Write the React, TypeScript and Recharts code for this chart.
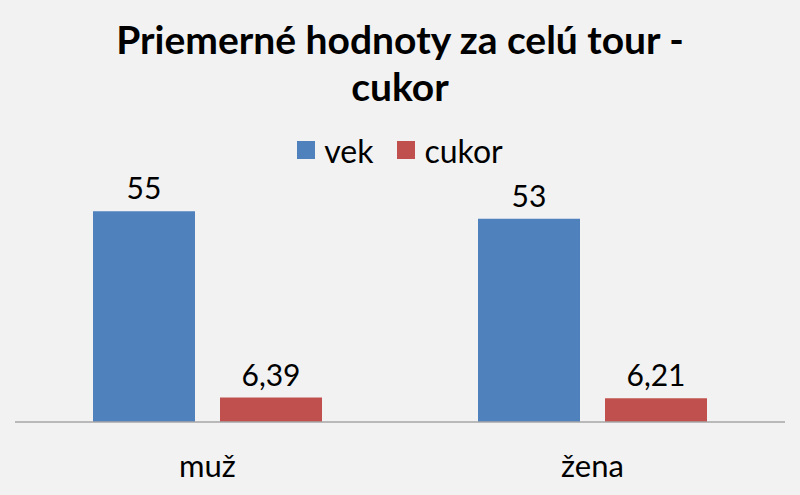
import { BarChart, Bar, XAxis, YAxis, LabelList } from "recharts";

const categories = ["muž", "žena"];
const vek = [55, 53];
const cukor = [6.39, 6.21];
const seriesNames = { vek: "vek", cukor: "cukor" };

const data = categories.map((name, i) => ({ name, vek: vek[i], cukor: cukor[i] }));

const FONT = "Lato, 'Open Sans', sans-serif";
const BLUE = "#4f81bd";
const RED = "#c0504d";
const fmt = (v: number) => String(v).replace(".", ",");

function LegendBox() {
  const items = [
    { label: seriesNames.vek, color: BLUE },
    { label: seriesNames.cukor, color: RED },
  ];
  return (
    <div
      style={{
        position: "absolute",
        top: 130,
        left: 0,
        width: 800,
        height: 40,
        display: "flex",
        justifyContent: "center",
        alignItems: "center",
        gap: 24,
        fontFamily: FONT,
        fontSize: 32,
      }}
    >
      {items.map((it) => (
        <div key={it.label} style={{ display: "flex", alignItems: "center", gap: 9 }}>
          <span style={{ width: 18, height: 18, background: it.color, display: "inline-block" }} />
          <span style={{ color: "#000" }}>{it.label}</span>
        </div>
      ))}
    </div>
  );
}

export default function App() {
  return (
    <div style={{ position: "absolute", left: 0, top: 0, width: 800, height: 495, background: "#f2f2f2" }}>
      <BarChart
        width={800}
        height={495}
        data={data}
        margin={{ top: 192, right: 15, left: 15, bottom: 0 }}
        barSize={102}
        barGap={25}
      >
        <YAxis hide domain={[0, 60]} />
        <XAxis
          dataKey="name"
          height={73}
          tickLine={false}
          axisLine={{ stroke: "#a6a6a6", strokeWidth: 1.5 }}
          tick={{ fontSize: 31, fill: "#000", fontFamily: FONT, dy: 25 }}
        />
        <Bar dataKey="vek" name={seriesNames.vek} fill={BLUE} isAnimationActive={false}>
          <LabelList dataKey="vek" position="top" offset={12} formatter={fmt} style={{ fontSize: 30, fill: "#000", fontFamily: FONT }} />
        </Bar>
        <Bar dataKey="cukor" name={seriesNames.cukor} fill={RED} isAnimationActive={false}>
          <LabelList dataKey="cukor" position="top" offset={12} formatter={fmt} style={{ fontSize: 30, fill: "#000", fontFamily: FONT }} />
        </Bar>
      </BarChart>
      <div
        style={{
          position: "absolute",
          top: 16,
          left: 0,
          width: 800,
          textAlign: "center",
          fontFamily: FONT,
          fontWeight: 700,
          fontSize: 39,
          lineHeight: "47px",
          color: "#000",
        }}
      >
        Priemerné hodnoty za celú tour -<br />cukor
      </div>
      <LegendBox />
    </div>
  );
}
